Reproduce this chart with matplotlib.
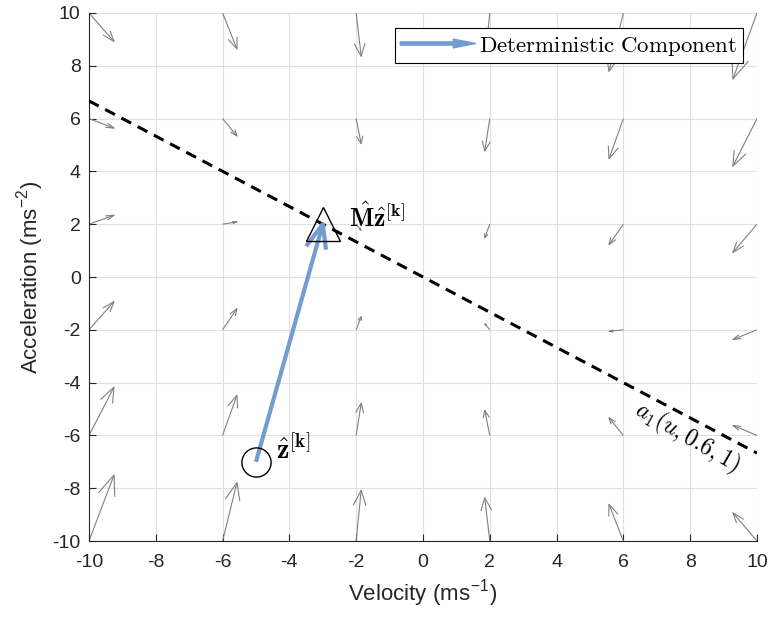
import matplotlib.pyplot as plt
import numpy as np
from matplotlib.patches import FancyArrow
from matplotlib.legend_handler import HandlerPatch

plt.rcParams['mathtext.fontset'] = 'cm'
plt.rcParams['axes.unicode_minus'] = False
plt.rcParams['font.family'] = ['Liberation Sans', 'DejaVu Sans']

# Campo vectorial muestreado en una malla 6x6
vel_grid = [-10, -6, -2, 2, 6, 10]
acc_grid = [10, 6, 2, -2, -6, -10]

# componentes (velocidad, aceleracion) de cada flecha, filas = aceleracion
du = [[0.75, 0.43, 0.15, -0.15, -0.43, -0.72],
      [0.75, 0.43, 0.15, -0.15, -0.43, -0.72],
      [0.75, 0.43, 0.15, -0.15, -0.43, -0.72],
      [0.75, 0.43, 0.15, -0.15, -0.43, -0.72],
      [0.75, 0.43, 0.15, -0.15, -0.43, -0.72],
      [0.75, 0.43, 0.15, -0.15, -0.43, -0.72]]
dv = [[-1.08, -1.36, -1.64, -1.89, -2.21, -2.50],
      [-0.36, -0.66, -0.95, -1.23, -1.52, -1.80],
      [0.34, 0.09, -0.23, -0.52, -0.77, -1.07],
      [1.07, 0.80, 0.50, 0.23, -0.06, -0.37],
      [1.83, 1.52, 1.22, 0.95, 0.67, 0.38],
      [2.50, 2.21, 1.92, 1.64, 1.39, 1.07]]

# Componente deterministica: z -> Mz
z_start = (-5, -7)
z_end = (-3, 2)

# Recta a1(u, 0.6, 1)
line_v = [-10, 10]
line_a = [6.67, -6.67]

blue = '#749cd0'


def draw_arrow(ax, x, y, u, v, alpha, beta, **kw):
    # flecha estilo quiver: cuerpo + punta abierta
    ax.plot([x, x + u], [y, y + v], **kw)
    hx = [x + u - alpha * (u + beta * v), x + u, x + u - alpha * (u - beta * v)]
    hy = [y + v - alpha * (v - beta * u), y + v, y + v - alpha * (v + beta * u)]
    ax.plot(hx, hy, **kw)


def make_legend_arrow(legend, orig_handle, xdescent, ydescent, width, height, fontsize):
    return FancyArrow(0, 0.5 * height, width, 0, length_includes_head=True,
                      head_width=0.55 * height, head_length=0.3 * width,
                      width=0.2 * height)


fig = plt.figure(figsize=(7.71, 6.19), dpi=100)
ax = fig.add_axes([0.1154, 0.126, 0.8664, 0.853])

# campo de flechas
for i, a in enumerate(acc_grid):
    for j, v in enumerate(vel_grid):
        draw_arrow(ax, v, a, du[i][j], dv[i][j], 0.3, 0.33,
                   color='0.5', lw=0.8, solid_capstyle='butt', zorder=2)

# recta discontinua
ax.plot(line_v, line_a, '--', color='black', lw=2.2, dashes=(3.6, 2.4), zorder=3)

# flecha deterministica
draw_arrow(ax, z_start[0], z_start[1], z_end[0] - z_start[0], z_end[1] - z_start[1],
           0.1, 0.33, color=blue, lw=3, solid_capstyle='butt', zorder=4)

ax.plot(*z_start, marker='o', ms=21, mfc='none', mec='black', mew=1.0, zorder=5)
ax.plot(*z_end, marker='^', ms=25, mfc='none', mec='black', mew=1.0, zorder=5)

ax.text(-4.4, -6.55, r'$\hat{\mathbf{z}}^{[\mathbf{k}]}$', fontsize=20, va='center')
ax.text(-2.2, 2.25, r'$\hat{\mathbf{M}}\hat{\mathbf{z}}^{[\mathbf{k}]}$', fontsize=18.5, va='center')
ax.text(7.9, -6.1, r'$a_1(u,0.6,1)$', fontsize=17, rotation=-30,
        ha='center', va='center', rotation_mode='anchor')

ax.set_xlim(-10, 10)
ax.set_ylim(-10, 10)
ax.set_xticks(np.arange(-10, 11, 2))
ax.set_yticks(np.arange(-10, 11, 2))
ax.grid(True, color='0.88', lw=0.8)
ax.set_axisbelow(True)
ax.spines['top'].set_visible(False)
ax.spines['right'].set_visible(False)
for s in ['left', 'bottom']:
    ax.spines[s].set_color('0.15')
ax.tick_params(direction='in', length=5, colors='0.15', labelsize=14)
ax.tick_params(axis='x', pad=9)
ax.tick_params(axis='y', pad=6)
ax.set_xlabel(r'Velocity (ms$^{\mathregular{-1}}$)', fontsize=16, color='0.15', labelpad=6)
ax.set_ylabel(r'Acceleration (ms$^{\mathregular{-2}}$)', fontsize=16, color='0.15', labelpad=4)

proxy = FancyArrow(0, 0, 1, 0, color=blue)
leg = ax.legend([proxy], [r'$\mathrm{Deterministic\ Component}$'],
                handler_map={FancyArrow: HandlerPatch(patch_func=make_legend_arrow)},
                loc='upper right', bbox_to_anchor=(0.979, 0.972), borderaxespad=0,
                fancybox=False, framealpha=1, edgecolor='black', fontsize=16.5,
                handlelength=3.3, handletextpad=0.15, borderpad=0.25)
leg.get_frame().set_linewidth(0.8)

plt.savefig('out.png', dpi=100)
